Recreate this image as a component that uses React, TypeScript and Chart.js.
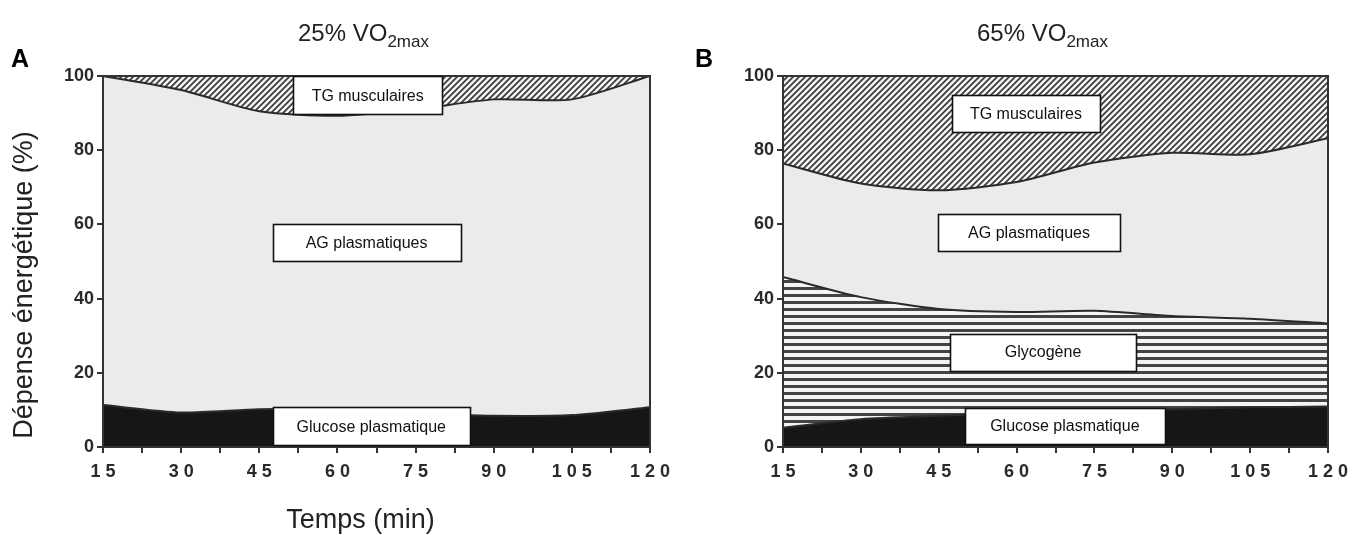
import React, { useEffect, useRef } from 'react';
import { Chart, registerables } from 'chart.js';

Chart.register(...registerables);

// ---- data (percent of energy expenditure) ----
const times = [15, 30, 45, 60, 75, 90, 105, 120];

// Panel A: 25% VO2max
const glucoseA = [11.3, 9.3, 10.2, 10.0, 9.0, 8.4, 8.6, 10.7];
const agA = [88.7, 86.9, 80.3, 79.3, 82.0, 85.3, 85.1, 89.3];
const tgA = [0, 3.8, 9.5, 10.7, 9.0, 6.3, 6.3, 0];

// Panel B: 65% VO2max
const glucoseB = [5.2, 7.5, 8.4, 9.2, 9.7, 10.2, 10.7, 10.9];
const glycogenB = [40.6, 32.9, 28.8, 27.2, 27.0, 25.1, 23.9, 22.4];
const agB = [30.6, 30.6, 32.0, 35.0, 40.0, 44.0, 44.3, 49.9];
const tgB = [23.6, 29.0, 30.8, 28.6, 23.3, 20.7, 21.1, 16.8];

const yTicks = [0, 20, 40, 60, 80, 100];
const xLabelTicks = [15, 30, 45, 60, 75, 90, 105, 120];

const FONT = "'Liberation Sans', Arial, Helvetica, sans-serif";
const INK = '#222222';

type Ann = { text: string; x: number; y: number; w: number; h: number };

const annsA: Ann[] = [
  { text: 'TG musculaires', x: 65.8, y: 94.8, w: 149, h: 38 },
  { text: 'AG plasmatiques', x: 65.6, y: 55.0, w: 188, h: 37 },
  { text: 'Glucose plasmatique', x: 66.5, y: 5.6, w: 197, h: 38 },
];
const annsB: Ann[] = [
  { text: 'TG musculaires', x: 61.8, y: 90.0, w: 148, h: 37 },
  { text: 'AG plasmatiques', x: 62.4, y: 57.7, w: 182, h: 37 },
  { text: 'Glycogène', x: 65.1, y: 25.6, w: 186, h: 37 },
  { text: 'Glucose plasmatique', x: 69.3, y: 5.7, w: 200, h: 36 },
];

function makeHatch(): CanvasPattern | string {
  const c = document.createElement('canvas');
  c.width = 6;
  c.height = 6;
  const g = c.getContext('2d');
  if (!g) return '#888';
  g.fillStyle = '#f3f3f3';
  g.fillRect(0, 0, 6, 6);
  g.strokeStyle = '#3a3a3a';
  g.lineWidth = 1.7;
  g.beginPath();
  g.moveTo(-1, 7);
  g.lineTo(7, -1);
  g.moveTo(-4, 4);
  g.lineTo(4, -4);
  g.moveTo(2, 10);
  g.lineTo(10, 2);
  g.stroke();
  return g.createPattern(c, 'repeat') || '#888';
}

function makeStripes(): CanvasPattern | string {
  const c = document.createElement('canvas');
  c.width = 4;
  c.height = 7;
  const g = c.getContext('2d');
  if (!g) return '#999';
  g.fillStyle = '#f4f4f4';
  g.fillRect(0, 0, 4, 7);
  g.fillStyle = '#444444';
  g.fillRect(0, 0, 4, 3);
  return g.createPattern(c, 'repeat') || '#999';
}

type Series = { label: string; values: number[]; kind: 'black' | 'gray' | 'stripes' | 'hatch' };

type PanelProps = {
  left: number;
  width: number;
  yAxisWidth: number;
  padRight: number;
  letter: string;
  pct: string;
  series: Series[];
  anns: Ann[];
  showAxisTitles: boolean;
};

function Panel(props: PanelProps) {
  const ref = useRef<HTMLCanvasElement | null>(null);
  useEffect(() => {
    const canvas = ref.current;
    if (!canvas) return;
    const hatch = makeHatch();
    const stripes = makeStripes();
    const fillFor = (k: Series['kind']) =>
      k === 'black' ? '#161616' : k === 'gray' ? '#ebebeb' : k === 'stripes' ? stripes : hatch;

    const decor = {
      id: 'decor',
      afterDatasetsDraw(chart: any) {
        const ctx = chart.ctx as CanvasRenderingContext2D;
        const a = chart.chartArea;
        const xs = chart.scales.x;
        const ys = chart.scales.y;
        ctx.save();
        // frame
        ctx.strokeStyle = '#333';
        ctx.lineWidth = 2;
        ctx.strokeRect(a.left, a.top, a.right - a.left, a.bottom - a.top);
        // annotation boxes
        for (const an of props.anns) {
          const cx = xs.getPixelForValue(an.x);
          const cy = ys.getPixelForValue(an.y);
          const x0 = Math.round(cx - an.w / 2) + 0.5;
          const y0 = Math.round(cy - an.h / 2) + 0.5;
          ctx.fillStyle = '#ffffff';
          ctx.fillRect(x0, y0, an.w, an.h);
          ctx.strokeStyle = '#111';
          ctx.lineWidth = 1.6;
          ctx.strokeRect(x0, y0, an.w, an.h);
          ctx.fillStyle = '#111';
          ctx.font = `16px ${FONT}`;
          ctx.textAlign = 'center';
          ctx.textBaseline = 'middle';
          ctx.fillText(an.text, cx, cy + 1);
        }
        // title with subscript
        const main = `${props.pct} VO`;
        const sub = '2max';
        ctx.fillStyle = INK;
        ctx.textBaseline = 'alphabetic';
        ctx.textAlign = 'left';
        ctx.font = `24px ${FONT}`;
        const w1 = ctx.measureText(main).width;
        ctx.font = `17px ${FONT}`;
        const w2 = ctx.measureText(sub).width;
        const cxT = (a.left + a.right) / 2 - 13;
        const startX = cxT - (w1 + w2) / 2;
        ctx.font = `24px ${FONT}`;
        ctx.fillText(main, startX, 41);
        ctx.font = `17px ${FONT}`;
        ctx.fillText(sub, startX + w1, 47);
        // panel letter
        ctx.font = `bold 25px ${FONT}`;
        ctx.fillStyle = '#000';
        ctx.fillText(props.letter, 11, 67);
        if (props.showAxisTitles) {
          ctx.font = `27px ${FONT}`;
          ctx.fillStyle = INK;
          ctx.textAlign = 'center';
          ctx.fillText('Temps (min)', (a.left + a.right) / 2 - 16, 528);
          ctx.save();
          ctx.translate(32, 285);
          ctx.rotate(-Math.PI / 2);
          ctx.fillText('Dépense énergétique (%)', 0, 0);
          ctx.restore();
        }
        ctx.restore();
      },
    };

    const chart = new Chart(canvas, {
      type: 'line',
      data: {
        datasets: props.series.map((s, i) => ({
          label: s.label,
          data: times.map((t, j) => ({ x: t, y: s.values[j] })),
          backgroundColor: fillFor(s.kind) as any,
          borderColor: '#2a2a2a',
          borderWidth: 2,
          fill: i === 0 ? 'origin' : '-1',
          pointRadius: 0,
          tension: 0.25,
        })),
      },
      options: {
        animation: false,
        responsive: false,
        devicePixelRatio: 1,
        layout: { padding: { left: 0, right: props.padRight, top: 76, bottom: 0 } },
        plugins: { legend: { display: false }, tooltip: { enabled: false } },
        scales: {
          x: {
            type: 'linear',
            min: 15,
            max: 120,
            afterFit: (s: any) => {
              s.height = 88;
            },
            afterBuildTicks: (s: any) => {
              const t: any[] = [];
              for (let k = 0; k < xLabelTicks.length; k++) {
                t.push({ value: xLabelTicks[k] });
                if (k < xLabelTicks.length - 1) t.push({ value: (xLabelTicks[k] + xLabelTicks[k + 1]) / 2 });
              }
              s.ticks = t;
            },
            grid: { drawOnChartArea: false, drawTicks: true, tickLength: 6, color: '#333', lineWidth: 2 },
            border: { display: false },
            ticks: {
              autoSkip: false,
              maxRotation: 0,
              padding: 8,
              color: '#2a2a2a',
              font: { family: FONT, size: 18, weight: 'bold' },
              callback: (v: any) => (xLabelTicks.includes(Number(v)) ? String(v).split('').join(' ') : ''),
            },
          },
          y: {
            stacked: true,
            min: 0,
            max: 100,
            afterFit: (s: any) => {
              s.width = props.yAxisWidth;
            },
            afterBuildTicks: (s: any) => {
              s.ticks = yTicks.map((v) => ({ value: v }));
            },
            grid: { drawOnChartArea: false, drawTicks: true, tickLength: 6, color: '#333', lineWidth: 2 },
            border: { display: false },
            ticks: {
              padding: 3,
              color: '#2a2a2a',
              font: { family: FONT, size: 18, weight: 'bold' },
            },
          },
        },
      },
      plugins: [decor],
    } as any);
    return () => chart.destroy();
  }, []);
  return (
    <div style={{ position: 'absolute', left: props.left, top: 0, width: props.width, height: 535 }}>
      <canvas ref={ref} width={props.width} height={535} style={{ width: props.width, height: 535, display: 'block' }} />
    </div>
  );
}

export default function App() {
  const seriesA: Series[] = [
    { label: 'Glucose plasmatique', values: glucoseA, kind: 'black' },
    { label: 'AG plasmatiques', values: agA, kind: 'gray' },
    { label: 'TG musculaires', values: tgA, kind: 'hatch' },
  ];
  const seriesB: Series[] = [
    { label: 'Glucose plasmatique', values: glucoseB, kind: 'black' },
    { label: 'Glycogène', values: glycogenB, kind: 'stripes' },
    { label: 'AG plasmatiques', values: agB, kind: 'gray' },
    { label: 'TG musculaires', values: tgB, kind: 'hatch' },
  ];
  return (
    <div style={{ position: 'absolute', left: 0, top: 0, width: 1368, height: 535, background: '#fff' }}>
      <Panel left={0} width={684} yAxisWidth={103} padRight={34} letter="A" pct="25%" series={seriesA} anns={annsA} showAxisTitles={true} />
      <Panel left={684} width={684} yAxisWidth={99} padRight={40} letter="B" pct="65%" series={seriesB} anns={annsB} showAxisTitles={false} />
    </div>
  );
}
